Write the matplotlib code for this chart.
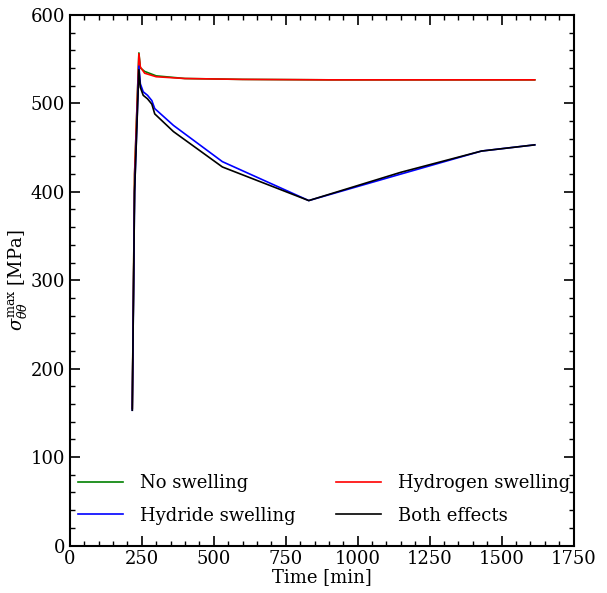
import numpy as np
import matplotlib.pyplot as plt
from matplotlib.ticker import MultipleLocator

plt.rcParams['font.family'] = 'DejaVu Serif'
plt.rcParams['mathtext.fontset'] = 'dejavuserif'

# Данные (время в минутах, напряжение в МПа)
t_no = [217, 225, 240, 245, 260, 300, 400, 600, 900, 1200, 1615]
s_no = [155, 420, 557, 540, 536, 531, 528, 527, 526.5, 526.5, 526.5]

t_h2 = [217, 225, 240, 245, 260, 300, 400, 600, 900, 1200, 1615]
s_h2 = [155, 420, 556, 541, 534, 530, 528, 527, 526.5, 526.5, 526.5]

t_hyd = [217, 225, 240, 245, 255, 270, 285, 295, 360, 530, 830, 1150, 1430, 1615]
s_hyd = [153, 400, 542, 522, 513, 509, 503, 494, 475, 434, 390, 420, 446, 453]

t_both = [217, 225, 240, 245, 255, 270, 285, 295, 360, 530, 830, 1150, 1430, 1615]
s_both = [153, 400, 538, 518, 509, 505, 499, 488, 468, 428, 390, 422, 446, 453]

fig = plt.figure(figsize=(6.07, 5.93), dpi=100)
ax = fig.add_axes([0.115, 0.08, 0.83, 0.895])

l1, = ax.plot(t_no, s_no, color='green', lw=1.2, label='No swelling')
l3, = ax.plot(t_h2, s_h2, color='red', lw=1.2, label='Hydrogen swelling')
l2, = ax.plot(t_hyd, s_hyd, color='blue', lw=1.2, label='Hydride swelling')
l4, = ax.plot(t_both, s_both, color='black', lw=1.2, label='Both effects')

ax.set_xlim(0, 1750)
ax.set_ylim(0, 600)
ax.xaxis.set_major_locator(MultipleLocator(250))
ax.xaxis.set_minor_locator(MultipleLocator(50))
ax.yaxis.set_major_locator(MultipleLocator(100))
ax.yaxis.set_minor_locator(MultipleLocator(20))
ax.tick_params(which='both', direction='in', top=True, right=True, labelsize=13)
ax.tick_params(which='major', length=7, width=1.2)
ax.tick_params(which='minor', length=3.5, width=1)
for sp in ax.spines.values():
    sp.set_linewidth(1.5)

ax.set_xlabel('Time [min]', fontsize=13, labelpad=0)
ax.set_ylabel(r'$\sigma_{\theta\theta}^{\mathrm{max}}$ [MPa]', fontsize=13, labelpad=0)

ax.legend(handles=[l1, l2, l3, l4], ncol=2, loc='lower left', frameon=False,
          fontsize=13, handlelength=2.5, handletextpad=0.95, columnspacing=2.2,
          labelspacing=0.8, borderaxespad=0, bbox_to_anchor=(0.002, 0.026))

fig.savefig('out.png', dpi=100)
